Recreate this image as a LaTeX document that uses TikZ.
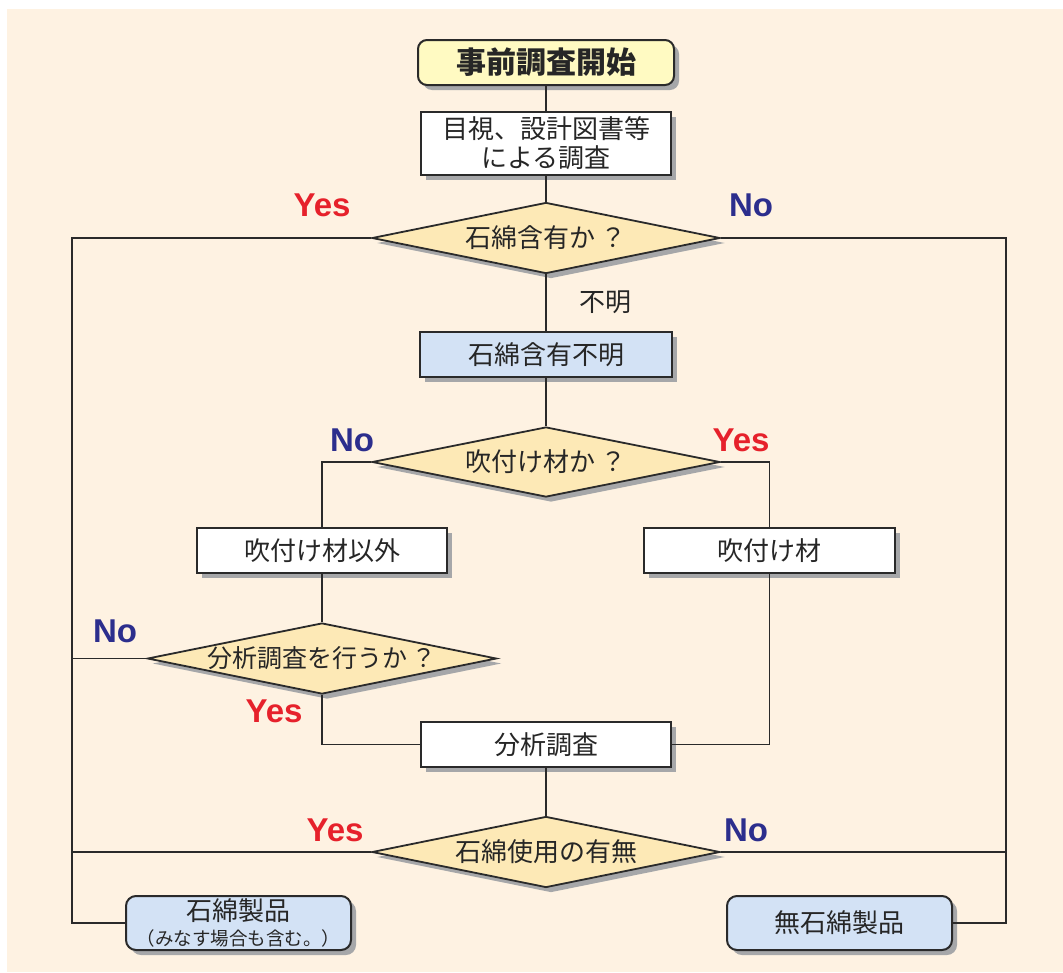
\documentclass[tikz,border=0pt]{standalone}
\usepackage{fontspec}
\setmainfont{Noto Sans CJK JP}
\newfontfamily\latfont{Liberation Sans}
\usetikzlibrary{shapes.geometric,shadows}
\definecolor{cream}{HTML}{FEF2E2}
\definecolor{diafill}{HTML}{FDE9B6}
\definecolor{bluefill}{HTML}{D3E2F5}
\definecolor{startfill}{HTML}{FFFAC2}
\definecolor{shadowgray}{HTML}{A6A7A9}
\definecolor{yesred}{HTML}{E6212B}
\definecolor{nonavy}{HTML}{2C2E8D}
\definecolor{edgegray}{HTML}{2A2A2A}
\tikzset{
  shad/.style={drop shadow={shadow xshift=5pt,shadow yshift=-5pt,fill=shadowgray,opacity=1}},
  base/.style={draw=edgegray,line width=2pt,inner sep=0pt,align=center,shad,
    font=\fontsize{26}{29}\selectfont,text=black!85},
  boxw/.style={base,rectangle,fill=white},
  boxb/.style={base,rectangle,fill=bluefill},
  rboxb/.style={base,rectangle,rounded corners=10pt,fill=bluefill},
  startbox/.style={base,rectangle,rounded corners=9pt,fill=startfill,font=\fontsize{30}{32}\selectfont\bfseries},
  dia/.style={base,diamond,fill=diafill,line width=1.8pt},
  conn/.style={draw=edgegray,line width=1.3pt},
  yeslab/.style={text=yesred,font=\latfont\bfseries\fontsize{33}{36}\selectfont},
  nolab/.style={text=nonavy,font=\latfont\bfseries\fontsize{33}{36}\selectfont},
  plainlab/.style={text=black!85,font=\fontsize{26}{29}\selectfont}
}
\begin{document}
\begin{tikzpicture}[x=1pt,y=-1pt]
\useasboundingbox (0,0) rectangle (1063,972);
\fill[white] (0,0) rectangle (1063,972);
\fill[cream] (7,9) rectangle (1063,972);

% coordinates for the outer vertical lines
\coordinate (lx) at (72,0);
\coordinate (rx) at (1006,0);

% nodes
\node[startbox,minimum width=256pt,minimum height=45pt] (start) at (546,62.5) {事前調査開始};
\node[boxw,minimum width=250pt,minimum height=63pt] (survey) at (546,143) {目視、設計図書等\\による調査};
\node[dia,minimum width=348pt,minimum height=71pt] (d1) at (546,238) {\makebox[0pt]{石綿含有か\,？}};
\node[boxb,minimum width=252pt,minimum height=45pt] (unk) at (546,354.5) {石綿含有不明};
\node[dia,minimum width=348pt,minimum height=70pt] (d2) at (546,462) {\makebox[0pt]{吹付け材か\,？}};
\node[boxw,minimum width=250pt,minimum height=45pt] (other) at (322,550.5) {吹付け材以外};
\node[boxw,minimum width=251pt,minimum height=45pt] (spray) at (769.5,550.5) {吹付け材};
\node[dia,minimum width=349pt,minimum height=71pt] (d3) at (322,658.5) {\makebox[0pt]{\fontsize{25}{28}\selectfont 分析調査を行うか\,？}};
\node[boxw,minimum width=250pt,minimum height=45pt] (ana) at (546,744.5) {分析調査};
\node[dia,minimum width=348pt,minimum height=71pt] (d4) at (546,852) {\makebox[0pt]{石綿使用の有無}};
\node[rboxb,minimum width=225pt,minimum height=54pt] (asb) at (238.5,923) {石綿製品\\[-4pt]{\fontsize{18.5}{20}\selectfont （みなす場合も含む。）}};
\node[rboxb,minimum width=225pt,minimum height=54pt] (nasb) at (839.5,923) {無石綿製品};

% connectors
\draw[conn] (start) -- (survey);
\draw[conn] (survey) -- (d1);
\draw[conn] (d1.west) -- (d1.west -| lx) -- (asb.west -| lx) -- (asb.west);
\draw[conn] (d1.east) -- (d1.east -| rx) -- (nasb.east -| rx) -- (nasb.east);
\draw[conn] (d1) -- (unk);
\draw[conn] (unk) -- (d2);
\draw[conn] (d2.west) -| (other.north);
\draw[conn] (d2.east) -| (spray.north);
\draw[conn] (other) -- (d3);
\draw[conn] (d3.west) -- (d3.west -| lx);
\draw[conn] (d3.south) |- (ana.west);
\draw[conn] (spray.south) |- (ana.east);
\draw[conn] (ana) -- (d4);
\draw[conn] (d4.west) -- (d4.west -| lx);
\draw[conn] (d4.east) -- (d4.east -| rx);

% labels
\node[yeslab] (y1) at (322,205) {Yes};
\node[nolab] (n1) at (751,205) {No};
\node[plainlab] (u1) at (605,302) {不明};
\node[nolab] (n2) at (352,440) {No};
\node[yeslab] (y2) at (741,440) {Yes};
\node[nolab] (n3) at (115,631) {No};
\node[yeslab] (y3) at (274,711) {Yes};
\node[yeslab] (y4) at (335,830) {Yes};
\node[nolab] (n4) at (746,830) {No};
\end{tikzpicture}
\end{document}
